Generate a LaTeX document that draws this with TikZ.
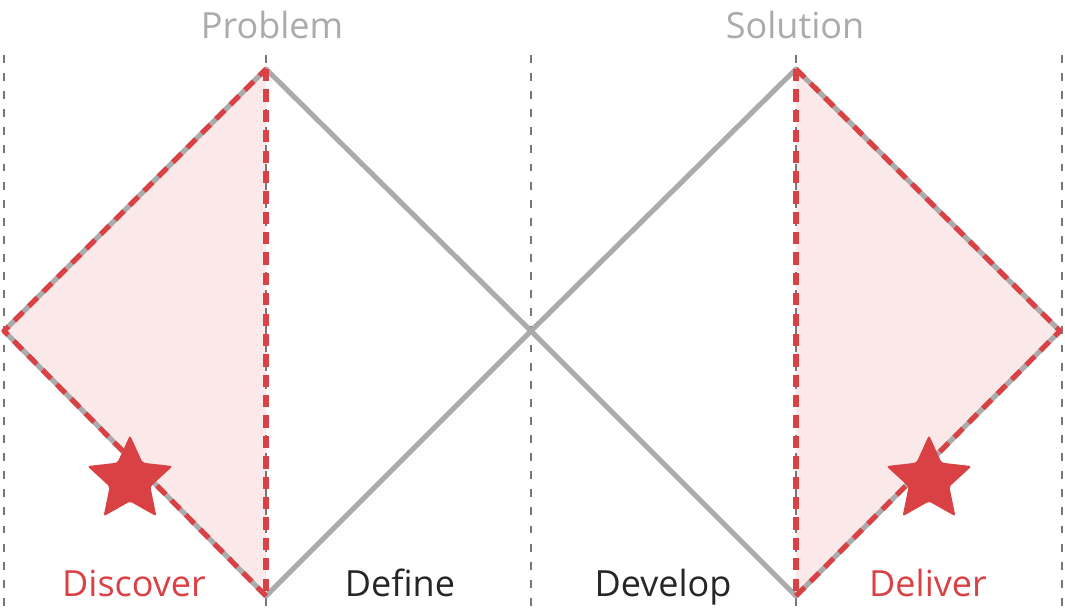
\documentclass[tikz,border=0pt]{standalone}
\usepackage{fontspec}
\setmainfont{Open Sans}
\usetikzlibrary{shapes.geometric}
\definecolor{redline}{HTML}{D94144}
\definecolor{pinkfill}{HTML}{FBE9E9}
\definecolor{diamondgray}{HTML}{ABABAB}
\definecolor{guidegray}{HTML}{777777}

\begin{document}
\begin{tikzpicture}[x=0.02cm, y=-0.02cm,
    guide/.style={guidegray, line width=1.6pt, dash pattern=on 4.5pt off 5.8pt},
    diamond/.style={diamondgray, line width=2.9pt, line join=round},
    reddash/.style={redline, line width=2.9pt, dash pattern=on 7pt off 4.6pt},
    phase/.style={font=\fontsize{20.5}{24}\selectfont, anchor=base},
    headline/.style={font=\fontsize{20.5}{24}\selectfont, diamondgray, anchor=base},
    mark star/.style={star, star points=5, star point ratio=2.1, fill=redline,
        minimum size=1.8cm, inner sep=0pt, rounded corners=1.5pt}]
    \useasboundingbox (0,0) rectangle (1065,612);

    % 1. Vertici dei due rombi
    \coordinate (ptop) at (266,69);
    \coordinate (pleft) at (4,331);
    \coordinate (pbot) at (266,596);
    \coordinate (mid) at (531,331);
    \coordinate (stop) at (796,69);
    \coordinate (sright) at (1060,331);
    \coordinate (sbot) at (796,596);

    % 2. Triangoli rosa (Discover / Deliver)
    \fill[pinkfill] (ptop) -- (pleft) -- (pbot) -- cycle;
    \fill[pinkfill] (stop) -- (sright) -- (sbot) -- cycle;

    % 3. Linee guida verticali tratteggiate
    \foreach \gx in {4,266,531,796,1062}
        \draw[guide] (\gx,55) -- (\gx,612);

    % 4. Rombi grigi
    \draw[diamond] (ptop) -- (pleft) -- (pbot) -- (mid) -- cycle;
    \draw[diamond] (stop) -- (mid) -- (sbot) -- (sright) -- cycle;

    % 5. Bordi rossi tratteggiati
    \draw[reddash, line join=round] (pbot) -- (pleft) -- (ptop);
    \draw[reddash] (ptop) -- (pbot);
    \draw[reddash, line join=round] (sbot) -- (sright) -- (stop);
    \draw[reddash] (stop) -- (sbot);

    % 6. Stelle
    \node[mark star] (discoverstar) at (130,480) {};
    \node[mark star] (deliverstar) at (929,480) {};

    % 7. Testi
    \node[headline] (problem) at (272,38) {Problem};
    \node[headline] (solution) at (795,38) {Solution};
    \node[phase, redline] (discover) at (134,596) {Discover};
    \node[phase, black!85] (define) at (400,596) {Define};
    \node[phase, black!85] (develop) at (663,596) {Develop};
    \node[phase, redline] (deliver) at (928,596) {Deliver};
\end{tikzpicture}
\end{document}
